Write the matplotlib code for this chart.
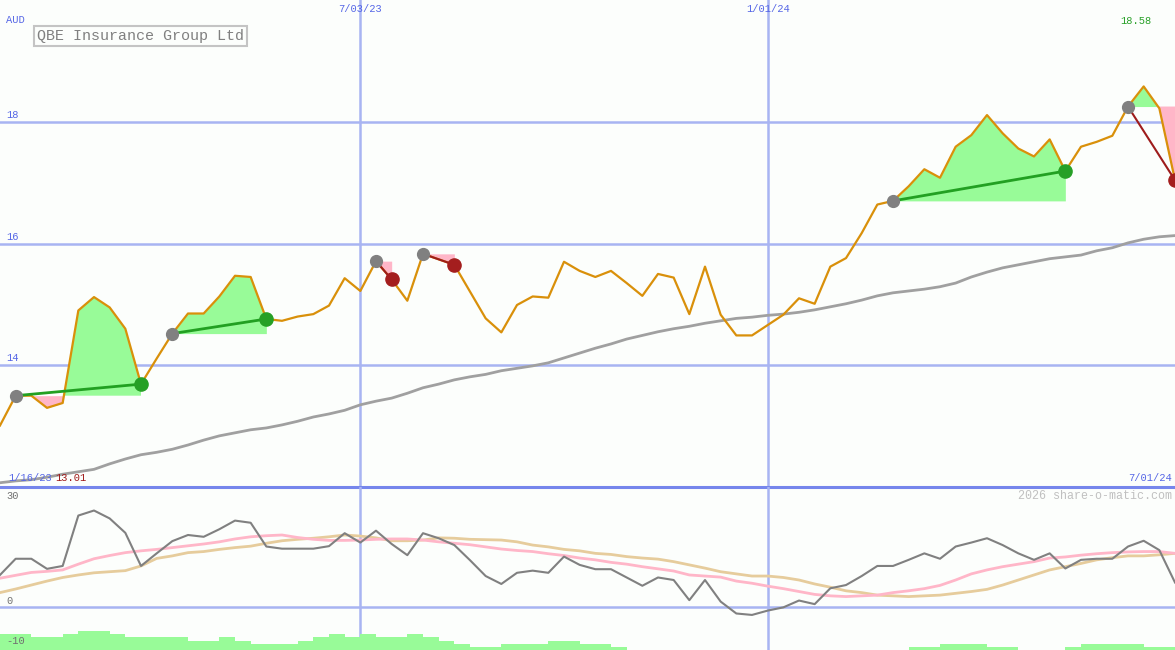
import matplotlib
matplotlib.use("Agg")
import matplotlib.pyplot as plt
import numpy as np

# weekly closes, QBE Insurance Group (AUD), first point Mon 23 Jan 2023
price = [13.01, 13.50, 13.50, 13.30, 13.38, 14.90, 15.12, 14.95, 14.60, 13.69,
         14.11, 14.52, 14.85, 14.85, 15.13, 15.47, 15.45, 14.76, 14.73, 14.80,
         14.84, 14.98, 15.43, 15.22, 15.71, 15.41, 15.06, 15.83, 15.74, 15.65,
         15.21, 14.77, 14.54, 14.99, 15.13, 15.11, 15.70, 15.55, 15.45, 15.55,
         15.35, 15.14, 15.50, 15.44, 14.84, 15.62, 14.83, 14.49, 14.49, 14.66,
         14.83, 15.10, 15.01, 15.62, 15.76, 16.17, 16.64, 16.70, 16.94, 17.22,
         17.08, 17.59, 17.78, 18.11, 17.81, 17.56, 17.43, 17.71, 17.19, 17.59,
         17.67, 17.77, 18.25, 18.58, 18.22, 17.04]

# long moving average (grey)
ma_long = [12.07, 12.10, 12.12, 12.16, 12.21, 12.25, 12.29, 12.38, 12.46, 12.53,
           12.57, 12.62, 12.69, 12.77, 12.84, 12.89, 12.94, 12.97, 13.02, 13.08,
           13.15, 13.20, 13.26, 13.35, 13.41, 13.46, 13.54, 13.63, 13.69, 13.76,
           13.81, 13.85, 13.91, 13.95, 13.99, 14.04, 14.12, 14.20, 14.28, 14.35,
           14.43, 14.49, 14.55, 14.60, 14.64, 14.69, 14.73, 14.77, 14.79, 14.82,
           14.84, 14.87, 14.91, 14.96, 15.01, 15.07, 15.14, 15.19, 15.22, 15.25,
           15.29, 15.35, 15.45, 15.53, 15.60, 15.65, 15.70, 15.75, 15.78, 15.81,
           15.88, 15.93, 16.01, 16.07, 16.11, 16.13]

# lower panel: oscillator and its two averages
osc = [8.9, 13.4, 13.4, 10.6, 11.4, 25.4, 26.8, 24.6, 20.6, 11.4,
       14.9, 18.3, 20.0, 19.5, 21.6, 24.0, 23.4, 16.8, 16.2, 16.2,
       16.2, 16.9, 20.5, 17.9, 21.2, 17.5, 14.4, 20.5, 19.1, 17.2,
       13.0, 8.6, 6.4, 9.5, 10.1, 9.5, 14.0, 11.7, 10.5, 10.5,
       8.2, 5.9, 8.2, 7.5, 1.9, 7.5, 1.5, -1.8, -2.2, -1.0,
       -0.1, 1.8, 0.8, 5.2, 6.1, 8.6, 11.4, 11.4, 13.1, 14.9,
       13.4, 16.8, 17.9, 19.1, 17.2, 14.9, 13.1, 14.9, 10.7, 13.1,
       13.4, 13.4, 16.8, 18.4, 15.8, 6.8]
osc_pink = [8.0, 8.8, 9.6, 9.9, 10.3, 11.9, 13.4, 14.3, 15.1, 15.6,
            16.0, 16.5, 17.0, 17.5, 18.1, 18.9, 19.5, 19.8, 20.0, 19.3,
            18.8, 18.5, 18.5, 18.6, 18.8, 18.9, 18.9, 18.6, 18.1, 17.7,
            17.3, 16.7, 16.1, 15.7, 15.4, 14.8, 14.3, 13.6, 13.1, 12.4,
            11.9, 11.2, 10.6, 10.0, 8.9, 8.6, 8.3, 7.2, 6.6, 5.8,
            5.1, 4.3, 3.5, 3.1, 2.9, 3.1, 3.3, 4.0, 4.5, 5.1,
            6.0, 7.5, 9.2, 10.3, 11.2, 11.9, 12.6, 13.6, 13.9, 14.4,
            14.8, 15.1, 15.3, 15.4, 15.4, 14.9]
osc_tan = [4.0, 5.0, 6.1, 7.2, 8.2, 8.9, 9.5, 9.8, 10.1, 11.4,
           13.5, 14.2, 15.1, 15.4, 16.0, 16.5, 16.9, 17.7, 18.4, 18.8,
           19.1, 19.5, 20.0, 19.7, 19.2, 18.4, 18.4, 18.6, 19.2, 19.1,
           18.8, 18.7, 18.6, 18.1, 17.2, 16.7, 16.0, 15.6, 14.9, 14.6,
           14.0, 13.6, 13.3, 12.6, 11.7, 10.8, 9.8, 9.2, 8.6, 8.6,
           8.2, 7.5, 6.4, 5.5, 4.5, 4.0, 3.3, 3.1, 2.9, 3.1,
           3.3, 3.8, 4.3, 4.9, 6.1, 7.5, 8.9, 10.3, 11.2, 12.1,
           13.1, 13.7, 14.2, 14.2, 14.5, 14.9]
# green histogram along the bottom, one bar per week
hist = [5, 5, 4, 4, 5, 6, 6, 5, 4, 4, 4, 4, 3, 3, 4, 3, 2, 2, 2, 3,
        4, 5, 4, 5, 4, 4, 5, 4, 3, 2, 1, 1, 2, 2, 2, 3, 3, 2, 2, 1,
        0, 0, 0, 0, 0, 0, 0, 0, 0, 0, 0, 0, 0, 0, 0, 0, 0, 0,
        1, 1, 2, 2, 2, 1, 1, 0, 0, 0, 1, 2, 2, 2, 2, 1, 1]

# trade signals (week index of entry / exit)
sig_start = [1, 11, 24, 27, 57, 72]
sig_end = [9, 17, 25, 29, 68, 75]

grid_weeks = [23, 49]
grid_labels = ["7/03/23", "1/01/24"]
price_ticks = [14, 16, 18]
osc_ticks = [30, 0, -10]

bg = "#fcfefc"
gridc = "#a8b4f2"
blue_txt = "#5566e6"
mono = "Liberation Mono"
fs = 7.5

x = np.arange(len(price))
p = np.array(price)

fig = plt.figure(figsize=(11.75, 6.5), dpi=100)
fig.patch.set_facecolor(bg)
ax = fig.add_axes([0, 163 / 650, 1, 487 / 650])
ax2 = fig.add_axes([0, 0, 1, 163 / 650])
for a in (ax, ax2):
    a.set_facecolor(bg)
    a.axis("off")
    a.set_xlim(0, len(price) - 1)
    for w in grid_weeks:
        a.axvline(w, color=gridc, lw=1.8, zorder=1)
ax.set_ylim(12, 20)
ax2.set_ylim(-11.94, 33.33)

for t in price_ticks:
    ax.axhline(t, color=gridc, lw=1.8, zorder=1)
    ax.annotate(str(t), (0, t), xycoords=("axes fraction", "data"), xytext=(6, 2),
                textcoords="offset pixels", fontsize=fs, color=blue_txt,
                family=mono, va="bottom")
ax.axhline(12, color="#7686ec", lw=2.2, zorder=6, clip_on=False)

# long average and price
ax.plot(x, ma_long, color="#a0a0a0", lw=2, zorder=2)

for s, e in zip(sig_start, sig_end):
    seg = slice(s, e + 1)
    lvl = price[s]
    ax.fill_between(x[seg], p[seg], lvl, where=p[seg] >= lvl, interpolate=True,
                    color="#98fb98", lw=0, zorder=3)
    ax.fill_between(x[seg], p[seg], lvl, where=p[seg] <= lvl, interpolate=True,
                    color="#ffb6c8", lw=0, zorder=3)

ax.plot(x, price, color="#d9900a", lw=1.6, zorder=4)

for s, e in zip(sig_start, sig_end):
    good = price[e] > price[s]
    c_line = "#22a022" if good else "#9e1c1c"
    c_dot = "#26a026" if good else "#a41e1e"
    ax.plot([s, e], [price[s], price[e]], color=c_line, lw=2 if good else 1.5, zorder=5)
    ax.plot(s, price[s], "o", color="#808080", ms=8.5, zorder=6)
    ax.plot(e, price[e], "o", color=c_dot, ms=9.5, zorder=6)

# lower panel
ax2.axhline(0, color=gridc, lw=1.8, zorder=1)
ax2.bar(np.arange(len(hist)), np.array(hist) * 0.87, bottom=-11.94, width=1,
        align="edge", color="#98fb98", lw=0, zorder=2)
ax2.plot(x, osc_tan, color="#e6cc9c", lw=2, zorder=3)
ax2.plot(x, osc_pink, color="#ffb6c8", lw=2, zorder=3)
ax2.plot(x, osc, color="#808080", lw=1.5, zorder=4)
for t, dy in zip(osc_ticks, [-2, 1, -3]):
    ax2.annotate(str(t), (0, t), xycoords=("axes fraction", "data"), xytext=(6, dy),
                 textcoords="offset pixels", fontsize=fs, color="#707070",
                 family=mono, va="bottom")

# texts
def px(xp, yp):
    return xp / 1175, 1 - yp / 650

for w, lab in zip(grid_weeks, grid_labels):
    ax.annotate(lab, (w, 1), xycoords=("data", "axes fraction"), xytext=(0, -9),
                textcoords="offset pixels", fontsize=fs, color=blue_txt,
                family=mono, ha="center", va="center")
fig.text(*px(6, 20), "AUD", fontsize=fs, color=blue_txt, family=mono, va="center")
fig.text(*px(1120, 21), "18.58", fontsize=fs, color="#28a028", family=mono, va="center")
fig.text(*px(8, 478), "1/16/23", fontsize=fs, color=blue_txt, family=mono, va="center")
fig.text(*px(55, 478), "13.01", fontsize=fs, color="#a01818", family=mono, va="center")
fig.text(*px(1172, 478), "7/01/24", fontsize=fs, color=blue_txt, family=mono,
         va="center", ha="right")
fig.text(*px(1172, 496), "2026 share-o-matic.com", fontsize=8.4, color="#c0c0c0",
         family=mono, va="center", ha="right")
fig.text(*px(37, 36), "QBE Insurance Group Ltd", fontsize=10.8, color="#808080",
         family=mono, va="center",
         bbox=dict(boxstyle="square,pad=0.22", fc=bg, ec="#c4c4c4", lw=1.5))

fig.savefig("out.png", dpi=100, facecolor=bg)
